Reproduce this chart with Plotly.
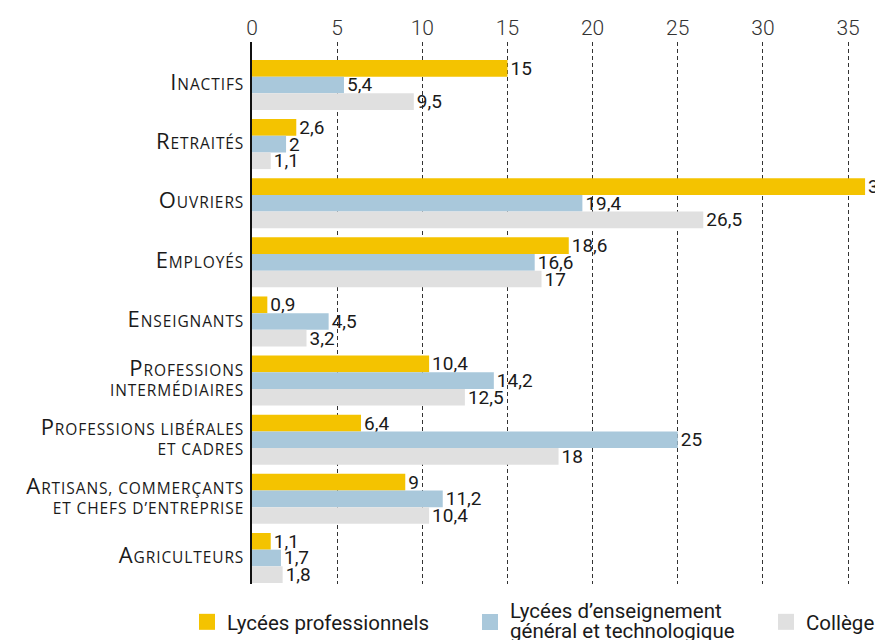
import plotly.graph_objects as go

# ---- data ----
categories = ["Inactifs", "Retraités", "Ouvriers", "Employés", "Enseignants",
              "Professions intermédiaires", "Professions libérales et cadres",
              "Artisans, commerçants et chefs d’entreprise", "Agriculteurs"]
category_labels = ["Inactifs", "Retraités", "Ouvriers", "Employés", "Enseignants",
                   "Professions\nintermédiaires", "Professions libérales\net cadres",
                   "Artisans, commerçants\net chefs d’entreprise", "Agriculteurs"]
lycees_pro = [15, 2.6, 36, 18.6, 0.9, 10.4, 6.4, 9, 1.1]
lycees_egt = [5.4, 2, 19.4, 16.6, 4.5, 14.2, 25, 11.2, 1.7]
college = [9.5, 1.1, 26.5, 17, 3.2, 12.5, 18, 10.4, 1.8]
x_ticks = [0, 5, 10, 15, 20, 25, 30, 35]
series_names = ["Lycées professionnels",
                "Lycées d’enseignement\ngénéral et technologique",
                "Collège"]

# ---- styles ----
COLORS = ["#F4C300", "#A9C8DB", "#E0E0E0"]
TXT = "#1a1a1a"
VAL_FONT = "Roboto, sans-serif"
LABEL_FONT = "Open Sans, Lato, sans-serif"

W, H = 875, 640
ML, MR, MT, MB = 252, 0, 42, 56
px_per_unit = 17.03
x_max = (W - ML - MR) / px_per_unit


def smallcaps(label, big=22, small=15.5, spacing=0.9):
    """Render a label in small capitals: original capitals large, the rest small."""
    out = []
    for line_i, line in enumerate(label.split("\n")):
        if line_i:
            out.append("<br>")
        runs = []
        for ch in line:
            kind = "big" if ch.isupper() else "small"
            if runs and runs[-1][0] == kind:
                runs[-1][1] += ch.upper()
            else:
                runs.append([kind, ch.upper()])
        for kind, txt in runs:
            size = big if kind == "big" else small
            out.append(f'<span style="font-size:{size}px;letter-spacing:{spacing}px">{txt}</span>')
    return "".join(out)


def fmt(v):
    return f"{v:g}".replace(".", ",")


fig = go.Figure()
for vals, color in zip([lycees_pro, lycees_egt, college], COLORS):
    fig.add_trace(go.Bar(
        y=categories, x=vals, orientation="h",
        marker=dict(color=color, line=dict(width=0)),
        text=[fmt(v) for v in vals], textposition="outside",
        textfont=dict(family=VAL_FONT, size=19, color=TXT),
        constraintext="none", cliponaxis=False,
        showlegend=False, hoverinfo="skip",
    ))

# legend entries (one legend per item for precise placement)
plot_w = W - ML - MR
plot_h = H - MT - MB
legend_left_px = [187, 470, 766]
legend_mid_px = 622
legend_keys = ["legend", "legend2", "legend3"]
LEG_SIZE = 20.5
for name, color, key in zip(series_names, COLORS, legend_keys):
    if "\n" in name:
        label = f'<span style="font-size:{LEG_SIZE}px">{name.replace(chr(10), "<br>")}</span>'
    else:
        label = name
    fig.add_trace(go.Scatter(
        x=[None], y=[None], mode="markers", name=label,
        marker=dict(symbol="square", size=17, color=color, line=dict(width=0)),
        legend=key, showlegend=True, hoverinfo="skip",
    ))

layout_legends = {}
for key, lx, name in zip(legend_keys, legend_left_px, series_names):
    layout_legends[key] = dict(
        orientation="h", xanchor="left", yanchor="middle",
        font=dict(family=VAL_FONT, size=15 if "\n" in name else LEG_SIZE, color=TXT),
        bgcolor="rgba(0,0,0,0)", borderwidth=0,
        x=(lx - ML) / plot_w,
        y=((H - MB) - legend_mid_px) / plot_h,
    )

fig.update_layout(
    width=W, height=H,
    margin=dict(l=ML, r=MR, t=MT, b=MB, pad=0, autoexpand=False),
    paper_bgcolor="white", plot_bgcolor="white",
    barmode="group", bargap=0.154, bargroupgap=0,
    xaxis=dict(
        side="top", range=[0, x_max], tickvals=x_ticks,
        ticktext=[str(t) for t in x_ticks],
        tickfont=dict(family="Roboto, sans-serif", size=21, color="#333", weight=300),
        showgrid=True, gridcolor="#333", gridwidth=1, griddash="4px,3px",
        zeroline=False, showline=False, ticks="", ticklabelstandoff=2,
        fixedrange=True, automargin=False,
    ),
    yaxis=dict(
        type="category", categoryorder="array", categoryarray=categories,
        range=[8.44, -0.727],
        tickvals=categories, ticktext=[smallcaps(c) for c in category_labels],
        tickfont=dict(family=LABEL_FONT, size=15, color=TXT),
        showline=True, linecolor="#111", linewidth=1.5,
        showgrid=False, zeroline=False, ticks="", ticklabelstandoff=3,
        fixedrange=True, automargin=False,
    ),
    **layout_legends,
)

fig.write_html("out.html", config={"displayModeBar": False})
